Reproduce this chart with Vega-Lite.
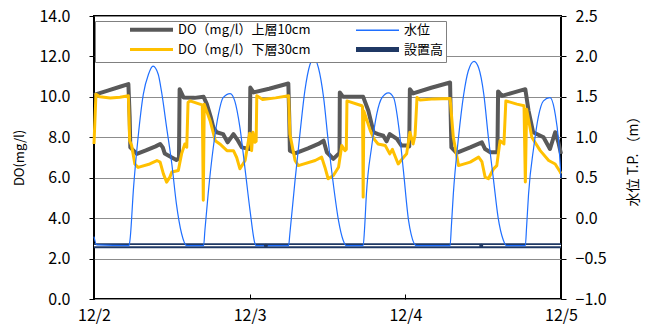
{
  "$schema": "https://vega.github.io/schema/vega-lite/v6.json",
  "width": 467,
  "height": 283,
  "autosize": "none",
  "padding": {"left": 94, "top": 16, "right": 90, "bottom": 33},
  "background": "white",
  "config": {
    "view": {"stroke": "#000", "strokeWidth": 2},
    "font": "Noto Sans CJK JP",
    "axis": {
      "labelFont": "Noto Sans CJK JP",
      "labelFontSize": 16,
      "labelColor": "#000",
      "titleFont": "Noto Sans CJK JP",
      "titleFontSize": 14,
      "titleFontWeight": "normal",
      "titleColor": "#000",
      "domain": false,
      "tickColor": "#000",
      "gridColor": "#8c8c8c",
      "gridWidth": 1
    }
  },
  "datasets": {
    "upper": [
      {"h": 0, "v": 10.1}, {"h": 2, "v": 10.3}, {"h": 4, "v": 10.5}, {"h": 5.3, "v": 10.63}, {"h": 5.5, "v": 9.0}, {"h": 5.6, "v": 7.5},
      {"h": 6.6, "v": 7.18}, {"h": 8.0, "v": 7.35}, {"h": 9.5, "v": 7.55}, {"h": 10.2, "v": 7.67}, {"h": 10.6, "v": 7.5}, {"h": 10.9, "v": 7.2},
      {"h": 12.0, "v": 7.0}, {"h": 12.7, "v": 6.88}, {"h": 13.1, "v": 6.95}, {"h": 13.2, "v": 10.38}, {"h": 13.8, "v": 9.97}, {"h": 15.5, "v": 9.95},
      {"h": 16.9, "v": 10.0}, {"h": 17.4, "v": 9.64}, {"h": 18.0, "v": 9.0}, {"h": 18.4, "v": 8.49}, {"h": 18.9, "v": 8.25}, {"h": 19.9, "v": 8.16},
      {"h": 20.6, "v": 7.75}, {"h": 21.5, "v": 8.16}, {"h": 22.2, "v": 7.83}, {"h": 22.8, "v": 7.5}, {"h": 23.5, "v": 7.45}, {"h": 24.0, "v": 7.42},
      {"h": 24.1, "v": 10.46}, {"h": 24.6, "v": 10.22}, {"h": 27.0, "v": 10.4}, {"h": 29.96, "v": 10.66}, {"h": 30.1, "v": 9.0}, {"h": 30.2, "v": 7.34},
      {"h": 31.0, "v": 7.21}, {"h": 33.0, "v": 7.45}, {"h": 34.6, "v": 7.67}, {"h": 35.4, "v": 7.83}, {"h": 35.9, "v": 7.26}, {"h": 36.9, "v": 6.93},
      {"h": 37.7, "v": 7.18}, {"h": 37.85, "v": 7.2}, {"h": 37.9, "v": 10.22}, {"h": 38.4, "v": 10.0}, {"h": 41.5, "v": 10.0}, {"h": 42.3, "v": 9.31},
      {"h": 43.1, "v": 8.25}, {"h": 43.8, "v": 8.16}, {"h": 44.6, "v": 8.08}, {"h": 45.1, "v": 7.8}, {"h": 45.6, "v": 8.16}, {"h": 46.7, "v": 7.92},
      {"h": 47.4, "v": 7.59}, {"h": 48.2, "v": 7.59}, {"h": 48.6, "v": 7.55}, {"h": 48.7, "v": 10.38}, {"h": 49.2, "v": 10.17}, {"h": 52.0, "v": 10.45},
      {"h": 54.9, "v": 10.71}, {"h": 55.0, "v": 9.0}, {"h": 55.1, "v": 7.5}, {"h": 55.9, "v": 7.23}, {"h": 58.0, "v": 7.5}, {"h": 59.8, "v": 7.75},
      {"h": 60.3, "v": 7.42}, {"h": 61.1, "v": 7.26}, {"h": 62.1, "v": 7.26}, {"h": 62.2, "v": 7.3}, {"h": 62.3, "v": 10.27}, {"h": 62.9, "v": 10.05},
      {"h": 64.5, "v": 10.2}, {"h": 66.5, "v": 10.38}, {"h": 67.0, "v": 9.31}, {"h": 67.7, "v": 8.25}, {"h": 69.3, "v": 8.0}, {"h": 70.3, "v": 7.42},
      {"h": 71.1, "v": 8.25}, {"h": 71.6, "v": 7.75}, {"h": 72.0, "v": 7.18}
    ],
    "lower": [
      {"h": 0, "v": 7.67}, {"h": 0.3, "v": 10.13}, {"h": 0.9, "v": 10.0}, {"h": 2.5, "v": 9.94}, {"h": 4.0, "v": 9.98}, {"h": 5.3, "v": 10.05},
      {"h": 5.5, "v": 7.83}, {"h": 5.8, "v": 7.6}, {"h": 6.3, "v": 6.68}, {"h": 6.8, "v": 6.51}, {"h": 8.6, "v": 6.68}, {"h": 9.7, "v": 6.85},
      {"h": 10.2, "v": 6.77}, {"h": 10.7, "v": 6.19}, {"h": 11.2, "v": 5.78}, {"h": 11.7, "v": 6.03}, {"h": 12.0, "v": 6.28}, {"h": 13.0, "v": 6.36},
      {"h": 13.5, "v": 7.18}, {"h": 14.0, "v": 7.67}, {"h": 14.3, "v": 7.51}, {"h": 14.5, "v": 9.72}, {"h": 14.8, "v": 9.8}, {"h": 16.3, "v": 9.64},
      {"h": 16.7, "v": 9.6}, {"h": 16.85, "v": 4.88}, {"h": 17.0, "v": 9.64}, {"h": 17.9, "v": 8.82}, {"h": 18.7, "v": 7.83}, {"h": 19.4, "v": 7.67},
      {"h": 20.5, "v": 7.34}, {"h": 21.5, "v": 7.34}, {"h": 22.0, "v": 7.0}, {"h": 22.5, "v": 6.44}, {"h": 23.3, "v": 6.85}, {"h": 24.0, "v": 8.2},
      {"h": 24.3, "v": 7.34}, {"h": 24.5, "v": 8.25}, {"h": 24.8, "v": 7.75}, {"h": 25.0, "v": 7.8}, {"h": 25.1, "v": 10.05}, {"h": 26.0, "v": 9.87},
      {"h": 28.0, "v": 9.95}, {"h": 30.0, "v": 10.05}, {"h": 30.2, "v": 8.16}, {"h": 31.0, "v": 6.85}, {"h": 31.5, "v": 6.6}, {"h": 34.1, "v": 6.85},
      {"h": 35.1, "v": 7.02}, {"h": 35.6, "v": 6.52}, {"h": 36.1, "v": 5.95}, {"h": 36.9, "v": 6.11}, {"h": 37.7, "v": 6.52}, {"h": 38.2, "v": 7.59},
      {"h": 38.7, "v": 7.34}, {"h": 38.9, "v": 7.4}, {"h": 39.0, "v": 9.8}, {"h": 41.3, "v": 9.56}, {"h": 41.4, "v": 9.5}, {"h": 41.5, "v": 5.04},
      {"h": 41.6, "v": 9.3}, {"h": 42.6, "v": 8.33}, {"h": 43.2, "v": 7.9}, {"h": 43.8, "v": 7.67}, {"h": 44.9, "v": 7.59}, {"h": 45.6, "v": 7.18},
      {"h": 46.0, "v": 7.4}, {"h": 46.9, "v": 6.68}, {"h": 47.7, "v": 7.0}, {"h": 48.2, "v": 7.18}, {"h": 48.7, "v": 8.25}, {"h": 49.2, "v": 7.67},
      {"h": 49.5, "v": 8.1}, {"h": 49.8, "v": 9.97}, {"h": 50.3, "v": 9.84}, {"h": 52.5, "v": 9.9}, {"h": 54.9, "v": 9.92}, {"h": 55.4, "v": 8.0},
      {"h": 56.2, "v": 6.6}, {"h": 58.0, "v": 6.77}, {"h": 59.3, "v": 7.02}, {"h": 59.8, "v": 6.8}, {"h": 60.3, "v": 6.03}, {"h": 60.8, "v": 5.95},
      {"h": 61.6, "v": 6.44}, {"h": 62.1, "v": 6.6}, {"h": 62.6, "v": 7.83}, {"h": 63.2, "v": 7.67}, {"h": 63.5, "v": 9.8}, {"h": 65.2, "v": 9.64},
      {"h": 66.3, "v": 9.56}, {"h": 66.5, "v": 5.79}, {"h": 66.7, "v": 9.39}, {"h": 67.5, "v": 8.0}, {"h": 68.8, "v": 7.34}, {"h": 70.1, "v": 6.85},
      {"h": 71.1, "v": 6.68}, {"h": 71.9, "v": 6.27}, {"h": 72.0, "v": 6.2}
    ],
    "level": [
      {"h": 0, "v": -0.23}, {"h": 0.4, "v": -0.33}, {"h": 5.4, "v": -0.34}, {"h": 5.55, "v": -0.27}, {"h": 6.1, "v": 0.38}, {"h": 6.8, "v": 1.0},
      {"h": 7.6, "v": 1.53}, {"h": 8.4, "v": 1.78}, {"h": 9.1, "v": 1.88}, {"h": 9.9, "v": 1.78}, {"h": 10.4, "v": 1.57}, {"h": 11.2, "v": 1.12},
      {"h": 12.0, "v": 0.67}, {"h": 12.7, "v": 0.18}, {"h": 13.5, "v": -0.19}, {"h": 14.3, "v": -0.34}, {"h": 16.9, "v": -0.34}, {"h": 17.1, "v": -0.15},
      {"h": 17.6, "v": 0.3}, {"h": 18.4, "v": 0.88}, {"h": 19.2, "v": 1.29}, {"h": 19.9, "v": 1.49}, {"h": 21.0, "v": 1.54}, {"h": 21.7, "v": 1.45},
      {"h": 22.5, "v": 1.12}, {"h": 23.3, "v": 0.6}, {"h": 24.05, "v": 0.1}, {"h": 24.8, "v": -0.31}, {"h": 25.0, "v": -0.34}, {"h": 30.0, "v": -0.34},
      {"h": 30.2, "v": -0.19}, {"h": 31.0, "v": 0.47}, {"h": 31.8, "v": 1.08}, {"h": 32.5, "v": 1.57}, {"h": 33.3, "v": 1.9}, {"h": 33.9, "v": 1.98},
      {"h": 34.6, "v": 1.86}, {"h": 35.4, "v": 1.49}, {"h": 36.1, "v": 0.96}, {"h": 36.9, "v": 0.42}, {"h": 37.7, "v": -0.03}, {"h": 38.4, "v": -0.27},
      {"h": 38.9, "v": -0.34}, {"h": 41.5, "v": -0.34}, {"h": 41.7, "v": -0.15}, {"h": 42.0, "v": 0.3}, {"h": 42.8, "v": 0.88}, {"h": 43.6, "v": 1.29},
      {"h": 44.4, "v": 1.49}, {"h": 45.4, "v": 1.55}, {"h": 46.2, "v": 1.49}, {"h": 47.0, "v": 1.12}, {"h": 47.7, "v": 0.59}, {"h": 48.5, "v": -0.03},
      {"h": 48.9, "v": -0.2}, {"h": 49.7, "v": -0.34}, {"h": 54.9, "v": -0.34}, {"h": 55.1, "v": -0.1}, {"h": 55.4, "v": 0.3}, {"h": 56.2, "v": 1.0},
      {"h": 57.0, "v": 1.53}, {"h": 57.7, "v": 1.82}, {"h": 58.6, "v": 1.94}, {"h": 59.3, "v": 1.86}, {"h": 60.1, "v": 1.53}, {"h": 60.8, "v": 1.0},
      {"h": 61.6, "v": 0.47}, {"h": 62.3, "v": 0.01}, {"h": 63.1, "v": -0.27}, {"h": 63.6, "v": -0.34}, {"h": 66.5, "v": -0.34}, {"h": 66.7, "v": -0.1},
      {"h": 67.0, "v": 0.3}, {"h": 67.8, "v": 0.88}, {"h": 68.5, "v": 1.25}, {"h": 69.3, "v": 1.45}, {"h": 70.3, "v": 1.49}, {"h": 71.1, "v": 1.29},
      {"h": 71.6, "v": 0.98}, {"h": 72.0, "v": 0.5}
    ],
    "install": [
      {"h": 0, "v": -0.34, "marker": false},
      {"h": 26.5, "v": -0.34, "marker": true},
      {"h": 59.7, "v": -0.34, "marker": true},
      {"h": 72, "v": -0.34, "marker": false}
    ]
  },
  "encoding": {
    "x": {
      "field": "h",
      "type": "quantitative",
      "scale": {"domain": [0, 72], "nice": false, "zero": false},
      "axis": {
        "values": [0, 24, 48, 72],
        "labelExpr": "'12/' + (2 + datum.value / 24)",
        "title": null,
        "grid": false,
        "tickSize": -5,
        "labelPadding": 13,
        "labelFlush": false
      }
    }
  },
  "layer": [
    {
      "layer": [
        {
          "data": {"name": "upper"},
          "mark": {"type": "line", "strokeJoin": "round", "strokeWidth": 4},
          "encoding": {
            "y": {
              "field": "v",
              "type": "quantitative",
              "scale": {"domain": [0, 14], "nice": false, "zero": false},
              "axis": {
                "orient": "left",
                "values": [0, 2, 4, 6, 8, 10, 12, 14],
                "format": ".1f",
                "title": "DO(mg/l)",
                "grid": true,
                "tickSize": 5,
                "labelPadding": 19,
                "titlePadding": 12,
                "titleFontSize": 13
              }
            },
            "color": {
              "datum": "DO（mg/l）上層10cm",
              "type": "nominal",
              "scale": {
                "domain": ["DO（mg/l）上層10cm", "DO（mg/l）下層30cm", "水位", "設置高"],
                "range": ["#595959", "#FFC000", "#1F6FFF", "#1F3864"]
              },
              "legend": {
                "title": null,
                "orient": "none",
                "legendX": 1,
                "legendY": 5,
                "zindex": 2,
                "columns": 2,
                "symbolType": "stroke",
                "symbolSize": 1849,
                "symbolOffset": 48,
                "labelOffset": 20,
                "labelFont": "Noto Sans CJK JP",
                "labelFontSize": 13,
                "labelColor": "#000",
                "strokeColor": "#808080",
                "fillColor": "white",
                "padding": 2,
                "rowPadding": 1,
                "columnPadding": 12,
                "labelLimit": 0,
                "encode": {
                  "legend": {
                    "update": {
                      "stroke": {"value": "#808080"},
                      "strokeWidth": {"value": 1},
                      "fill": {"value": "white"}
                    }
                  },
                  "symbols": {
                    "update": {
                      "fill": {"value": "transparent"},
                      "strokeWidth": {"signal": "datum.value === '水位' ? 1.3 : datum.value === '設置高' ? 5 : datum.value === 'DO（mg/l）上層10cm' ? 4 : 3"}
                    }
                  }
                }
              }
            }
          }
        },
        {
          "data": {"name": "lower"},
          "mark": {"type": "line", "strokeJoin": "round", "strokeWidth": 3},
          "encoding": {
            "y": {"field": "v", "type": "quantitative", "scale": {"domain": [0, 14], "nice": false, "zero": false}},
            "color": {"datum": "DO（mg/l）下層30cm", "type": "nominal"}
          }
        }
      ]
    },
    {
      "layer": [
        {
          "data": {"name": "install"},
          "mark": {"type": "line", "strokeWidth": 5},
          "encoding": {
            "y": {
              "field": "v",
              "type": "quantitative",
              "scale": {"domain": [-1, 2.5], "nice": false, "zero": false},
              "axis": {
                "orient": "right",
                "values": [-1, -0.5, 0, 0.5, 1, 1.5, 2, 2.5],
                "format": ".1f",
                "title": "水位 T.P. （m）",
                "titleAngle": 270,
                "grid": false,
                "tickSize": 5,
                "labelPadding": 9,
                "titlePadding": 34
              }
            },
            "color": {"datum": "設置高", "type": "nominal"}
          }
        },
        {
          "data": {"name": "install"},
          "mark": {"type": "line", "color": "white", "strokeWidth": 1.4},
          "encoding": {
            "y": {"field": "v", "type": "quantitative", "scale": {"domain": [-1, 2.5], "nice": false, "zero": false}}
          }
        },
        {
          "data": {"name": "level"},
          "mark": {"type": "line", "interpolate": "monotone", "strokeWidth": 1.2},
          "encoding": {
            "y": {"field": "v", "type": "quantitative", "scale": {"domain": [-1, 2.5], "nice": false, "zero": false}},
            "color": {"datum": "水位", "type": "nominal"}
          }
        },
        {
          "data": {"name": "install"},
          "transform": [{"filter": "datum.marker"}],
          "mark": {"type": "point", "filled": true, "color": "#1F3864", "size": 16, "opacity": 1},
          "encoding": {
            "y": {"field": "v", "type": "quantitative", "scale": {"domain": [-1, 2.5], "nice": false, "zero": false}}
          }
        }
      ]
    }
  ],
  "resolve": {"scale": {"y": "independent"}}
}
